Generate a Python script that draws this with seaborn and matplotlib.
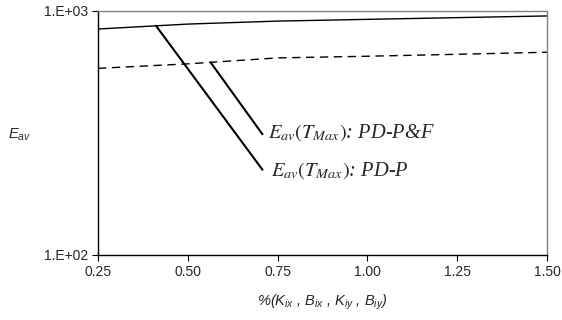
import matplotlib
matplotlib.use("Agg")
import matplotlib.pyplot as plt
import seaborn as sns
import pandas as pd
from matplotlib.ticker import FixedLocator, FixedFormatter, NullLocator

x_vals = [0.25, 0.50, 0.75, 1.00, 1.25, 1.50]
pdp = [840, 880, 905, 920, 935, 950]
pdpf = [580, 605, 640, 650, 662, 675]
x_ticks = [0.25, 0.50, 0.75, 1.00, 1.25, 1.50]
x_ticklabels = ["0.25", "0.50", "0.75", "1.00", "1.25", "1.50"]
y_ticks = [100, 1000]
y_ticklabels = ["1.E+02", "1.E+03"]

sns.set_style("ticks")
plt.rcParams['font.family'] = ['Liberation Sans', 'DejaVu Sans']
plt.rcParams['mathtext.fontset'] = 'custom'
plt.rcParams['mathtext.rm'] = 'Liberation Sans'
plt.rcParams['mathtext.it'] = 'Liberation Sans:italic'

df = pd.DataFrame({"x": x_vals * 2, "y": pdp + pdpf,
                   "s": ["PD-P"] * len(x_vals) + ["PD-P&F"] * len(x_vals)})

fig = plt.figure(figsize=(5.62, 3.2), dpi=100)
ax = fig.add_axes([98/562, 1-255/320, (547-98)/562, (255-10.5)/320])

sns.lineplot(data=df, x="x", y="y", style="s", color="black", linewidth=1.0,
             dashes={"PD-P": "", "PD-P&F": (6, 4)}, legend=False, ax=ax)
ax.set_yscale("log")
ax.set_xlim(0.25, 1.5)
ax.set_ylim(100, 1000)
ax.yaxis.set_major_locator(FixedLocator(y_ticks))
ax.yaxis.set_major_formatter(FixedFormatter(y_ticklabels))
ax.yaxis.set_minor_locator(NullLocator())
ax.set_xticks(x_ticks)
ax.set_xticklabels(x_ticklabels)
ax.tick_params(axis="both", labelsize=10, length=4, width=0.8, color="black", pad=3)
for sp in ["top", "right"]:
    ax.spines[sp].set_color("#808080")
    ax.spines[sp].set_linewidth(1.0)
for sp in ["left", "bottom"]:
    ax.spines[sp].set_color("black")
    ax.spines[sp].set_linewidth(1.0)

ax.set_xlabel(r"%($K_{ix}$ , $B_{ix}$ , $K_{iy}$ , $B_{iy}$)", fontsize=10.5, fontstyle="italic", labelpad=10)
ax.set_ylabel("")
fig.text(8/562, 1-135/320, r"$E_{av}$", fontsize=10.5, va="center", ha="left")

# leader lines
ax.plot([0.562, 0.709], [618, 310], color="black", lw=1.5, solid_capstyle="butt")
ax.plot([0.41, 0.709], [872, 222], color="black", lw=1.5, solid_capstyle="butt")

ax.text(0.723, 318, r"$E_{av}(T_{Max})$: PD-P&F", fontsize=14.7, fontstyle="italic",
        family="Liberation Serif", math_fontfamily="stix", va="center", ha="left")
ax.text(0.733, 222, r"$E_{av}(T_{Max})$: PD-P", fontsize=14.7, fontstyle="italic",
        family="Liberation Serif", math_fontfamily="stix", va="center", ha="left")

fig.savefig("out.png", dpi=100)
